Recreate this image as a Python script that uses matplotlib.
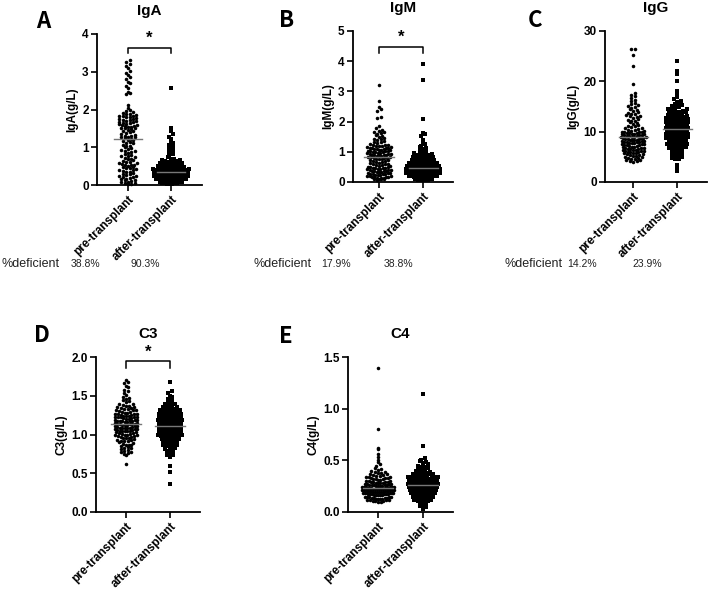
import numpy as np
import matplotlib
matplotlib.use("Agg")
import matplotlib.pyplot as plt

plt.rcParams['font.family'] = ['Liberation Sans', 'DejaVu Sans']

# ---------------- data ----------------
groups = ["pre-transplant", "after-transplant"]

IgA_pre = [3.30, 3.26, 3.20, 3.14, 3.09, 3.03, 2.97, 2.91, 2.86, 2.80, 2.74, 2.69, 2.63, 2.57, 2.47, 2.45, 2.42,
           2.12, 2.05, 2.00,
           1.97, 1.94, 1.91, 1.89, 1.87, 1.86, 1.84, 1.83, 1.82, 1.80, 1.79, 1.78, 1.76, 1.75, 1.73, 1.72, 1.70,
           1.69, 1.67, 1.66, 1.65, 1.63, 1.62, 1.61, 1.60, 1.58, 1.57, 1.55, 1.54, 1.53, 1.52, 1.51, 1.50,
           1.48, 1.46, 1.44, 1.42, 1.40, 1.37, 1.35, 1.33, 1.31, 1.29, 1.28, 1.27, 1.26, 1.24, 1.22, 1.20, 1.18,
           1.16, 1.14, 1.12, 1.10, 1.07, 1.04, 1.02, 1.00,
           0.98, 0.96, 0.93, 0.91, 0.89, 0.87, 0.85, 0.83, 0.80, 0.78, 0.76, 0.74, 0.72, 0.70, 0.68, 0.66, 0.64,
           0.62, 0.60, 0.58, 0.57, 0.55, 0.54, 0.53, 0.52, 0.51,
           0.49, 0.47, 0.46, 0.44, 0.42, 0.41, 0.39, 0.37, 0.35, 0.34, 0.32, 0.30, 0.29, 0.27, 0.25, 0.23, 0.22,
           0.20, 0.18, 0.17, 0.15, 0.13, 0.12, 0.10, 0.09, 0.07, 0.06, 0.05, 0.03, 0.02]
IgA_after = [2.57, 1.50, 1.42, 1.35, 1.28, 1.22, 1.16, 1.10, 1.05, 1.00, 0.95, 0.90, 0.86, 0.82, 0.78, 0.74,
             0.70, 0.69, 0.67, 0.66, 0.64, 0.63, 0.62, 0.61,
             0.60, 0.59, 0.58, 0.57, 0.56, 0.55, 0.54, 0.53, 0.52, 0.52, 0.51, 0.50,
             0.49, 0.49, 0.48, 0.48, 0.47, 0.46, 0.46, 0.45, 0.45, 0.44, 0.43, 0.43, 0.42, 0.42, 0.41, 0.41,
             0.40, 0.40,
             0.39, 0.39, 0.38, 0.38, 0.38, 0.37, 0.37, 0.36, 0.36, 0.36, 0.35, 0.35, 0.34, 0.34, 0.34, 0.33,
             0.33, 0.32, 0.32, 0.32, 0.31, 0.31, 0.30, 0.30,
             0.29, 0.29, 0.28, 0.28, 0.28, 0.27, 0.27, 0.26, 0.26, 0.26, 0.25, 0.25, 0.24, 0.24, 0.24, 0.23,
             0.23, 0.22, 0.22, 0.22, 0.21, 0.21, 0.20, 0.20,
             0.19, 0.19, 0.18, 0.18, 0.17, 0.17, 0.16, 0.16, 0.15, 0.15, 0.14, 0.14, 0.13, 0.13, 0.12, 0.12,
             0.11, 0.11, 0.10, 0.10,
             0.09, 0.09, 0.08, 0.07, 0.07, 0.06, 0.05, 0.05, 0.04, 0.03, 0.03, 0.02]

IgM_pre = [3.20, 2.68, 2.47, 2.41, 2.36, 2.16, 2.12, 1.87, 1.78, 1.73,
           1.70, 1.67, 1.65, 1.61, 1.59, 1.56, 1.53, 1.50, 1.47, 1.44, 1.41, 1.39, 1.36, 1.33, 1.31, 1.28, 1.26,
           1.24, 1.22, 1.21,
           1.19, 1.18, 1.18, 1.16, 1.15, 1.14, 1.13, 1.12, 1.11, 1.10, 1.10, 1.08, 1.07, 1.06, 1.05, 1.04, 1.03,
           1.02, 1.01, 1.00,
           0.99, 0.98, 0.97, 0.96, 0.95, 0.94, 0.93, 0.92, 0.91, 0.90, 0.89, 0.88, 0.87, 0.86, 0.85, 0.84, 0.83,
           0.82, 0.81, 0.80,
           0.79, 0.77, 0.76, 0.75, 0.73, 0.72, 0.70, 0.69, 0.67, 0.66, 0.64, 0.63, 0.61, 0.60, 0.58, 0.57, 0.55,
           0.54, 0.52, 0.51,
           0.50, 0.49, 0.48, 0.47, 0.46, 0.45, 0.44, 0.43, 0.42, 0.41, 0.40, 0.39, 0.38, 0.37, 0.36, 0.35, 0.34,
           0.33, 0.32, 0.31,
           0.30, 0.29, 0.28, 0.27, 0.26, 0.25, 0.24, 0.23, 0.22, 0.21, 0.20, 0.19, 0.18, 0.17, 0.16, 0.15, 0.14,
           0.13, 0.12, 0.11, 0.10, 0.10, 0.09, 0.08]
IgM_after = [3.90, 3.38, 2.08, 1.62, 1.58, 1.52, 1.40, 1.32, 1.25, 1.20, 1.16, 1.12, 1.08, 1.04,
             1.00, 0.98, 0.95, 0.93, 0.91,
             0.89, 0.88, 0.86, 0.85, 0.83, 0.82, 0.80,
             0.79, 0.78, 0.77, 0.76, 0.75, 0.74, 0.73, 0.72, 0.70,
             0.69, 0.68, 0.67, 0.66, 0.65, 0.64, 0.63, 0.63, 0.62, 0.61, 0.60,
             0.59, 0.58, 0.58, 0.57, 0.56, 0.56, 0.55, 0.54, 0.54, 0.53, 0.52, 0.52, 0.51, 0.50,
             0.49, 0.49, 0.48, 0.48, 0.47, 0.47, 0.46, 0.46, 0.45, 0.45, 0.44, 0.44, 0.43, 0.43, 0.42, 0.42,
             0.41, 0.40,
             0.39, 0.39, 0.38, 0.38, 0.37, 0.37, 0.36, 0.36, 0.35, 0.35, 0.34, 0.34, 0.33, 0.33, 0.32, 0.32,
             0.31, 0.31, 0.30, 0.30,
             0.29, 0.29, 0.28, 0.28, 0.27, 0.27, 0.26, 0.26, 0.25, 0.25, 0.24, 0.24, 0.23, 0.23, 0.22, 0.22,
             0.21, 0.20,
             0.19, 0.19, 0.18, 0.17, 0.17, 0.16, 0.15, 0.15, 0.14, 0.13, 0.12, 0.11, 0.10,
             0.09, 0.08, 0.07, 0.06, 0.05]

IgG_pre = [26.5, 26.4, 25.2, 23.0, 19.4, 17.6, 17.3, 17.0, 16.6, 16.3, 16.0,
           15.7, 15.4, 15.2, 15.0, 14.9, 14.7, 14.5, 14.3, 14.1, 13.9, 13.8, 13.6, 13.5, 13.3, 13.2, 13.1,
           12.9, 12.8,
           12.6, 12.4, 12.2, 12.1, 11.9, 11.7, 11.6, 11.4, 11.2, 11.1, 10.9, 10.8, 10.7, 10.5, 10.4, 10.3,
           10.2, 10.1, 10.0, 10.0, 9.9, 9.9,
           9.8, 9.8, 9.7, 9.6, 9.6, 9.5, 9.5, 9.4, 9.3, 9.3, 9.2, 9.2, 9.1, 9.0, 9.0, 8.9, 8.9, 8.8, 8.7, 8.7,
           8.6, 8.6, 8.5, 8.4, 8.4, 8.3, 8.3, 8.2, 8.2, 8.1, 8.0, 8.0, 7.9, 7.9, 7.8, 7.8,
           7.7, 7.6, 7.6, 7.5, 7.4, 7.3, 7.3, 7.2, 7.1, 7.0, 7.0, 6.9, 6.8, 6.8, 6.7, 6.6, 6.6, 6.5, 6.4, 6.4,
           6.3, 6.2, 6.2, 6.1, 6.0, 6.0, 5.9, 5.8, 5.8, 5.7,
           5.6, 5.5, 5.4, 5.3, 5.2, 5.1, 5.0, 4.9, 4.8, 4.7, 4.6, 4.5, 4.4, 4.3, 4.2, 4.1, 4.0]
IgG_after = [24.0, 22.0, 21.5, 20.0, 18.0, 17.4,
             16.8, 16.4, 16.1,
             15.9, 15.7, 15.5, 15.2, 15.0,
             14.9, 14.7, 14.6, 14.5, 14.3, 14.2, 14.1, 14.0, 14.0,
             13.9, 13.8, 13.7, 13.6, 13.5, 13.4, 13.3, 13.2, 13.1, 13.0, 13.0,
             12.9, 12.8, 12.7, 12.6, 12.6, 12.5, 12.4, 12.3, 12.2, 12.2, 12.1, 12.0, 12.0,
             11.9, 11.8, 11.7, 11.7, 11.6, 11.5, 11.5, 11.4, 11.3, 11.3, 11.2, 11.1, 11.0, 11.0,
             10.9, 10.8, 10.7, 10.7, 10.6, 10.5, 10.5, 10.4, 10.3, 10.3, 10.2, 10.1, 10.0, 10.0,
             9.9, 9.8, 9.7, 9.7, 9.6, 9.5, 9.5, 9.4, 9.3, 9.3, 9.2, 9.1, 9.0, 9.0,
             8.9, 8.8, 8.7, 8.7, 8.6, 8.5, 8.5, 8.4, 8.3, 8.3, 8.2, 8.1, 8.0,
             7.9, 7.8, 7.7, 7.6, 7.5, 7.5, 7.4, 7.3, 7.2, 7.1, 7.0,
             6.9, 6.8, 6.7, 6.6, 6.5, 6.4, 6.3, 6.2, 6.0,
             5.9, 5.7, 5.5, 5.3, 5.1, 5.0,
             4.8, 4.6, 4.5,
             3.4, 2.8, 2.2]

C3_pre = [1.70, 1.68, 1.66, 1.63, 1.61, 1.58, 1.56, 1.53, 1.51,
          1.48, 1.47, 1.46, 1.44, 1.43, 1.42, 1.40,
          1.39, 1.38, 1.37, 1.37, 1.36, 1.35,
          1.34, 1.34, 1.33, 1.33, 1.32, 1.31, 1.31, 1.30,
          1.29, 1.29, 1.28, 1.28, 1.27, 1.27, 1.26, 1.26, 1.25, 1.25,
          1.24, 1.24, 1.24, 1.23, 1.23, 1.22, 1.22, 1.22, 1.21, 1.21, 1.20, 1.20,
          1.19, 1.19, 1.19, 1.18, 1.18, 1.17, 1.17, 1.17, 1.16, 1.16, 1.15, 1.15,
          1.14, 1.14, 1.14, 1.13, 1.13, 1.12, 1.12, 1.12, 1.11, 1.11, 1.11, 1.10, 1.10,
          1.09, 1.09, 1.09, 1.08, 1.08, 1.07, 1.07, 1.07, 1.06, 1.06, 1.05, 1.05,
          1.04, 1.04, 1.04, 1.03, 1.03, 1.02, 1.02, 1.01, 1.01, 1.00, 1.00,
          0.99, 0.99, 0.98, 0.98, 0.97, 0.97, 0.96, 0.96, 0.95,
          0.94, 0.93, 0.93, 0.92, 0.91, 0.91, 0.90,
          0.89, 0.88, 0.87, 0.87, 0.86, 0.85,
          0.84, 0.83, 0.82, 0.81, 0.80,
          0.79, 0.78, 0.77, 0.76, 0.75,
          0.73, 0.62]
C3_after = [1.68, 1.56, 1.53, 1.50, 1.48, 1.46, 1.43, 1.41, 1.40,
            1.39, 1.38, 1.37, 1.36, 1.35,
            1.34, 1.33, 1.33, 1.32, 1.31, 1.31, 1.30,
            1.29, 1.29, 1.28, 1.28, 1.27, 1.27, 1.26, 1.26, 1.25, 1.25,
            1.24, 1.24, 1.24, 1.23, 1.23, 1.22, 1.22, 1.22, 1.21, 1.21, 1.20, 1.20,
            1.19, 1.19, 1.19, 1.18, 1.18, 1.18, 1.17, 1.17, 1.17, 1.16, 1.16, 1.15, 1.15,
            1.14, 1.14, 1.13, 1.13, 1.13, 1.12, 1.12, 1.12, 1.11, 1.11, 1.11, 1.10, 1.10,
            1.09, 1.09, 1.08, 1.08, 1.08, 1.07, 1.07, 1.07, 1.06, 1.06, 1.06, 1.05, 1.05,
            1.04, 1.04, 1.03, 1.03, 1.03, 1.02, 1.02, 1.02, 1.01, 1.01, 1.00, 1.00,
            0.99, 0.99, 0.98, 0.98, 0.97, 0.97, 0.97, 0.96, 0.96, 0.95, 0.95,
            0.94, 0.94, 0.93, 0.92, 0.92, 0.91, 0.90, 0.90,
            0.89, 0.88, 0.87, 0.86, 0.86, 0.85,
            0.84, 0.83, 0.82, 0.81, 0.80,
            0.79, 0.78, 0.77, 0.76,
            0.74, 0.73, 0.71,
            0.60, 0.52, 0.36]

C4_pre = [1.39, 0.80, 0.62, 0.61, 0.56, 0.53, 0.50, 0.48, 0.46, 0.45, 0.43, 0.42, 0.41,
          0.40, 0.39, 0.39, 0.38, 0.38, 0.37, 0.37, 0.36, 0.36, 0.35,
          0.35, 0.34, 0.34, 0.34, 0.33, 0.33, 0.33, 0.32, 0.32, 0.32, 0.31, 0.31, 0.30, 0.30,
          0.30, 0.29, 0.29, 0.29, 0.29, 0.28, 0.28, 0.28, 0.28, 0.27, 0.27, 0.27, 0.27,
          0.26, 0.26, 0.26, 0.26, 0.26, 0.25, 0.25, 0.25, 0.25,
          0.24, 0.24, 0.24, 0.24, 0.24, 0.24, 0.23, 0.23, 0.23, 0.23, 0.23, 0.23,
          0.22, 0.22, 0.22, 0.22, 0.22, 0.22, 0.21, 0.21, 0.21, 0.21, 0.21, 0.21,
          0.20, 0.20, 0.20, 0.20, 0.20, 0.20,
          0.19, 0.19, 0.19, 0.19, 0.19, 0.19, 0.18, 0.18, 0.18, 0.18, 0.18, 0.18,
          0.17, 0.17, 0.17, 0.17, 0.17, 0.17, 0.16, 0.16, 0.16, 0.16, 0.16, 0.15, 0.15, 0.15, 0.15, 0.15,
          0.14, 0.14, 0.14, 0.14, 0.13, 0.13, 0.13, 0.13, 0.12, 0.12, 0.12, 0.12, 0.11, 0.11, 0.11,
          0.10, 0.10]
C4_after = [1.14, 0.64,
            0.52, 0.50, 0.49, 0.48, 0.47, 0.46,
            0.45, 0.44, 0.44, 0.43, 0.42, 0.42, 0.41, 0.40,
            0.39, 0.39, 0.38, 0.38, 0.37, 0.37, 0.37, 0.36, 0.36, 0.36, 0.35, 0.35,
            0.34, 0.34, 0.34, 0.34, 0.33, 0.33, 0.33, 0.33, 0.32, 0.32, 0.32, 0.32,
            0.31, 0.31, 0.31, 0.31, 0.30, 0.30, 0.30, 0.30,
            0.29, 0.29, 0.29, 0.29, 0.29, 0.28, 0.28, 0.28, 0.28, 0.28,
            0.27, 0.27, 0.27, 0.27, 0.27, 0.27, 0.26, 0.26, 0.26, 0.26, 0.26,
            0.25, 0.25, 0.25, 0.25, 0.25,
            0.24, 0.24, 0.24, 0.24, 0.24, 0.23, 0.23, 0.23, 0.23, 0.23,
            0.22, 0.22, 0.22, 0.22, 0.22, 0.21, 0.21, 0.21, 0.21, 0.21, 0.20, 0.20, 0.20, 0.20,
            0.19, 0.19, 0.19, 0.19, 0.18, 0.18, 0.18, 0.18, 0.17, 0.17, 0.17, 0.17,
            0.16, 0.16, 0.16, 0.15, 0.15, 0.15,
            0.14, 0.14, 0.14, 0.13, 0.13, 0.12, 0.12, 0.11, 0.11, 0.10, 0.10,
            0.09, 0.08, 0.07, 0.06, 0.05, 0.04, 0.03]

IgA_deficient = ["38.8%", "90.3%"]
IgM_deficient = ["17.9%", "38.8%"]
IgG_deficient = ["14.2%", "23.9%"]

# ---------------- layout helpers ----------------
W, H = 708, 591
fig = plt.figure(figsize=(W / 100, H / 100), dpi=100)


def row_scatter(ys_px, row_h, step, soft, slope):
    """Prism-like scatter: points in the same horizontal band are spread side by side;
    bands wider than `soft` pixels are compressed."""
    ys_px = np.asarray(ys_px)
    xs = np.zeros(len(ys_px))
    bins = np.floor(ys_px / row_h).astype(int)
    for bval in np.unique(bins):
        idx = np.where(bins == bval)[0]
        idx = idx[np.argsort(ys_px[idx], kind="stable")]
        n = len(idx)
        if n % 2 == 1:
            slots = [0.0]
            k = 1
            while len(slots) < n:
                slots += [k, -k]
                k += 1
        else:
            slots = []
            k = 0.5
            while len(slots) < n:
                slots += [-k, k]
                k += 1
        slots = np.array(slots[:n], float) * step
        span = np.max(np.abs(slots)) if n > 1 else 0.0
        if span > soft:
            slots = slots * (soft + (span - soft) * slope) / span
        xs[idx] = slots
    return xs


def panel(box, letter, letter_xy, title, ylabel, pre, after, ylim, yticks, yfmt, xlim, sig=None):
    l, t, r, b = box
    ax = fig.add_axes([l / W, 1 - b / H, (r - l) / W, (b - t) / H])
    ax.set_xlim(*xlim)
    ax.set_ylim(*ylim)
    wpx, hpx = r - l, b - t
    xscale = wpx / (xlim[1] - xlim[0])
    yscale = hpx / (ylim[1] - ylim[0])
    for gi, (vals, mk, ms) in enumerate([(pre, 'o', 6.5), (after, 's', 5.0)]):
        v = np.asarray(vals, float)
        offs = row_scatter((v - ylim[0]) * yscale, 3.2, 3.4, 9, 0.35)
        ax.scatter(gi + offs / xscale, v, s=ms, marker=mk, color='black', linewidths=0,
                   zorder=3, clip_on=False)
        med = np.median(v)
        ax.plot([gi - 0.33, gi + 0.33], [med, med], color='#777777', lw=1.0, zorder=4)
    for s in ['top', 'right']:
        ax.spines[s].set_visible(False)
    for s in ['left', 'bottom']:
        ax.spines[s].set_linewidth(1.3)
    ax.set_yticks(yticks)
    ax.set_yticklabels([yfmt.format(v) for v in yticks], fontsize=8.5, fontweight='bold')
    ax.set_xticks([0, 1])
    ax.set_xticklabels(groups, rotation=45, ha='right', va='top', rotation_mode='anchor',
                       fontsize=8.5, fontweight='bold')
    ax.tick_params(axis='both', length=4, width=1.2, pad=2)
    ax.set_ylabel(ylabel, fontsize=8.5, fontweight='bold', labelpad=3)
    ax.set_title(title, fontsize=11, fontweight='bold', pad=14)
    fig.text(letter_xy[0] / W, 1 - letter_xy[1] / H, letter, fontsize=16, fontweight='bold',
             family=['Noto Sans CJK SC', 'DejaVu Sans'], ha='center', va='baseline')
    if sig is not None:
        y_lo, y_hi, y_star = sig
        ax.plot([0, 0, 1, 1], [y_lo, y_hi, y_hi, y_lo], color='black', lw=1.1, clip_on=False)
        ax.text(0.5, y_star, '*', ha='center', va='center', fontsize=12, fontweight='bold',
                clip_on=False)
    return ax


def deficient_row(x_label, x_vals, labels, y=267):
    fig.text(x_label / W, 1 - y / H, "%deficient", fontsize=9, color='#222222',
             ha='left', va='baseline')
    for xv, lab in zip(x_vals, labels):
        fig.text(xv / W, 1 - y / H, lab, fontsize=7.5, color='#222222', ha='center', va='baseline')


panel((97, 34, 202, 185), 'A', (43, 28), 'IgA', 'IgA(g/L)', IgA_pre, IgA_after,
      (0, 4), [0, 1, 2, 3, 4], '{:g}', (-0.72, 1.72), sig=(3.5, 3.62, 3.88))
panel((353, 31, 453, 182), 'B', (287, 27), 'IgM', 'IgM(g/L)', IgM_pre, IgM_after,
      (0, 5), [0, 1, 2, 3, 4, 5], '{:g}', (-0.59, 1.68), sig=(4.27, 4.47, 4.8))
panel((605, 31, 707, 182), 'C', (535, 27), 'IgG', 'IgG(g/L)', IgG_pre, IgG_after,
      (0, 30), [0, 10, 20, 30], '{:g}', (-0.64, 1.68))
panel((96, 357, 200, 512), 'D', (42, 342), 'C3', 'C3(g/L)', C3_pre, C3_after,
      (0, 2.0), [0.0, 0.5, 1.0, 1.5, 2.0], '{:.1f}', (-0.68, 1.68), sig=(1.86, 1.95, 2.06))
panel((348, 357, 453, 512), 'E', (286, 343), 'C4', 'C4(g/L)', C4_pre, C4_after,
      (0, 1.5), [0.0, 0.5, 1.0, 1.5], '{:.1f}', (-0.67, 1.67))

deficient_row(1, [85, 145], IgA_deficient)
deficient_row(253, [336, 398], IgM_deficient)
deficient_row(505, [582, 647], IgG_deficient)

fig.savefig("out.png", dpi=100)
